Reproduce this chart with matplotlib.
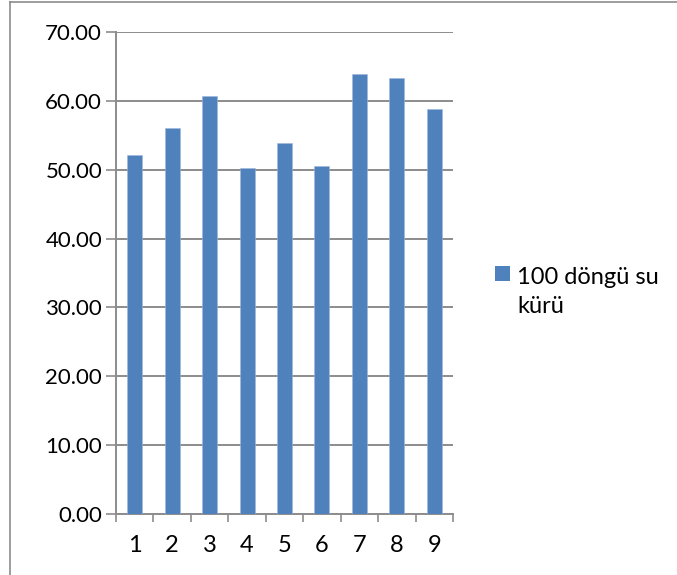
import matplotlib.pyplot as plt
from matplotlib.lines import Line2D
from matplotlib.patches import Rectangle
from matplotlib.ticker import FixedLocator, FuncFormatter

plt.rcParams["font.family"] = ["Lato", "DejaVu Sans"]

# data
categories = [1, 2, 3, 4, 5, 6, 7, 8, 9]
values = [52.1, 56.0, 60.7, 50.2, 53.9, 50.5, 63.95, 63.3, 58.8]
series_name = "100 döngü su\nkürü"
y_ticks = [0, 10, 20, 30, 40, 50, 60, 70]

BAR = "#4F81BD"
GRID = "#8C8C8C"

W, H = 677, 575
fig = plt.figure(figsize=(W / 100, H / 100), dpi=100)
ax = fig.add_axes([116 / W, 1 - 514 / H, (453 - 116) / W, (514 - 32) / H])

ax.bar(categories, values, width=0.4, color=BAR, edgecolor="#9fb9dc", linewidth=0.4, zorder=3)

ax.set_xlim(0.5, 9.5)
ax.set_ylim(0, 70)
ax.set_yticks(y_ticks)
ax.yaxis.set_major_formatter(FuncFormatter(lambda v, _: f"{v:.2f}"))
ax.yaxis.grid(True, color=GRID, linewidth=1.4, zorder=0)

# category labels without marks, boundary ticks as minor ticks
ax.set_xticks(categories)
ax.xaxis.set_minor_locator(FixedLocator([c - 0.5 for c in categories] + [categories[-1] + 0.5]))
ax.tick_params(axis="x", which="major", length=0, pad=15, labelsize=17)
ax.tick_params(axis="x", which="minor", length=5.5, width=1.2, color=GRID, direction="out")
ax.tick_params(axis="y", length=7, width=1.2, color=GRID, direction="out", pad=3, labelsize=16)

for s in ("top", "right"):
    ax.spines[s].set_visible(False)
for s in ("left", "bottom"):
    ax.spines[s].set_color(GRID)
    ax.spines[s].set_linewidth(1.4)

# legend drawn by hand so the square sits on the first line
fig.patches.append(Rectangle((495 / W, 1 - 281 / H), 15 / W, 15 / H,
                             transform=fig.transFigure, facecolor=BAR, edgecolor="none"))
fig.text(517 / W, 1 - 292 / H, series_name, ha="left", va="center", fontsize=17,
         linespacing=1.5)

# chart frame (only left and top edges are visible)
fig.add_artist(Line2D([10 / W, 10 / W], [0, 1 - 2 / H], transform=fig.transFigure,
                      color=GRID, linewidth=1.2))
fig.add_artist(Line2D([10 / W, 1], [1 - 2 / H, 1 - 2 / H], transform=fig.transFigure,
                      color=GRID, linewidth=1.2))

fig.savefig("out.png", dpi=100)
